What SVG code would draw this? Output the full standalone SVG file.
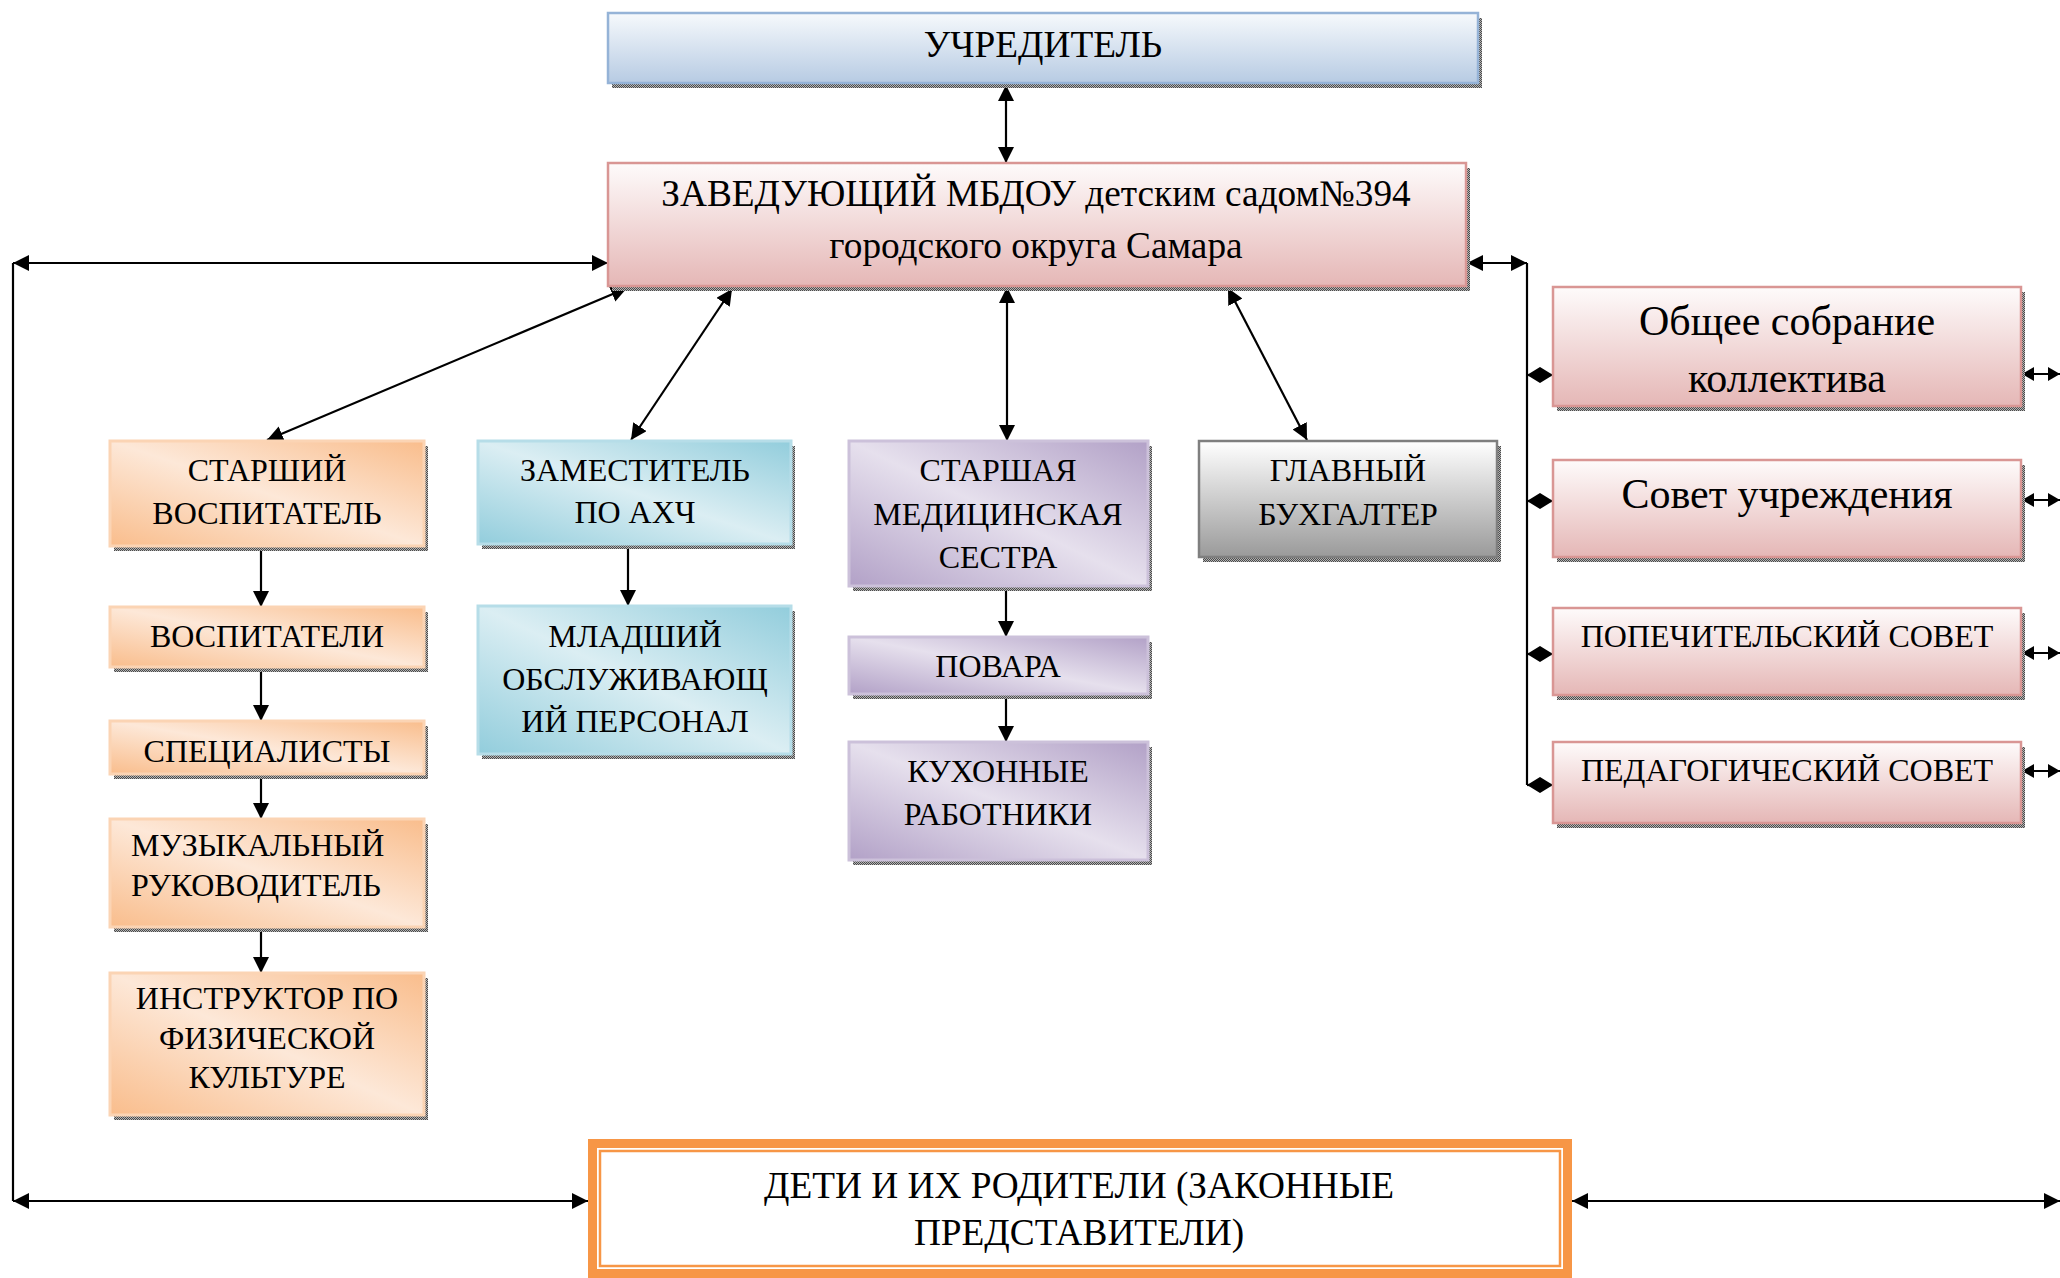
<svg xmlns="http://www.w3.org/2000/svg" width="2060" height="1278" viewBox="0 0 2060 1278">
<style>
text{font-family:"Liberation Serif","Times New Roman",serif;fill:#000;text-anchor:middle}
.m{font-size:37.3px}
.s{font-size:32px}
.b{font-size:42px}
.ln{stroke:#000;stroke-width:2.2;fill:none}
.shd{fill:url(#dots)}
</style>
<defs>
<pattern id="dots" width="2" height="2" patternUnits="userSpaceOnUse"><rect width="2" height="2" fill="#b5b5b5"/><rect width="1" height="1" fill="#4a4a4a"/><rect x="1" y="1" width="1" height="1" fill="#4a4a4a"/></pattern>
<linearGradient id="gBlue" x1="0" y1="0" x2="0" y2="1"><stop offset="0" stop-color="#f6f9fc"/><stop offset="1" stop-color="#b7cbe3"/></linearGradient>
<linearGradient id="gPink" x1="0" y1="0" x2="0" y2="1"><stop offset="0" stop-color="#fefbfb"/><stop offset="1" stop-color="#e5b7b6"/></linearGradient>
<linearGradient id="gGray" x1="0" y1="0" x2="0" y2="1"><stop offset="0" stop-color="#ffffff"/><stop offset="1" stop-color="#9a9a9a"/></linearGradient>
<linearGradient id="gOr" x1="1" y1="0" x2="0" y2="1"><stop offset="0" stop-color="#f9bd8c"/><stop offset="0.5" stop-color="#fde8d8"/><stop offset="1" stop-color="#f9bd8c"/></linearGradient>
<linearGradient id="gTeal" x1="1" y1="0" x2="0" y2="1"><stop offset="0" stop-color="#92cddc"/><stop offset="0.5" stop-color="#dbeef3"/><stop offset="1" stop-color="#92cddc"/></linearGradient>
<linearGradient id="gPur" x1="1" y1="0" x2="0" y2="1"><stop offset="0" stop-color="#b2a1c7"/><stop offset="0.5" stop-color="#e6e0ed"/><stop offset="1" stop-color="#b2a1c7"/></linearGradient>
<marker id="ah" viewBox="0 0 16 16" refX="16" refY="8" markerWidth="16" markerHeight="16" markerUnits="userSpaceOnUse" orient="auto-start-reverse"><path d="M0,0 L16,8 L0,16 z" fill="#000"/></marker>
<marker id="ahs" viewBox="0 0 12 14" refX="12" refY="7" markerWidth="12" markerHeight="14" markerUnits="userSpaceOnUse" orient="auto-start-reverse"><path d="M0,0 L12,7 L0,14 z" fill="#000"/></marker>
<marker id="ahd" viewBox="0 0 13 16" refX="13" refY="8" markerWidth="13" markerHeight="16" markerUnits="userSpaceOnUse" orient="auto-start-reverse"><path d="M0,0 L13,8 L0,16 z" fill="#000"/></marker>
</defs>
<rect width="2060" height="1278" fill="#fff"/>

<g id="connectors">
<line class="ln" x1="1006" y1="85" x2="1006" y2="163" marker-start="url(#ah)" marker-end="url(#ah)"/>
<line class="ln" x1="608" y1="263" x2="13" y2="263" stroke-width="3" marker-start="url(#ah)" marker-end="url(#ah)"/>
<line class="ln" x1="13" y1="263" x2="13" y2="1201" stroke-width="1.6"/>
<line class="ln" x1="13" y1="1201" x2="588" y2="1201" stroke-width="3" marker-start="url(#ah)" marker-end="url(#ah)"/>
<line class="ln" x1="1572" y1="1201" x2="2060" y2="1201" stroke-width="3" marker-start="url(#ah)" marker-end="url(#ah)"/>
<line class="ln" x1="1467" y1="263" x2="1527" y2="263" stroke-width="3" marker-start="url(#ah)" marker-end="url(#ah)"/>
<line class="ln" x1="1527" y1="263" x2="1527" y2="785" stroke-width="2"/>
<line class="ln" x1="1527" y1="375" x2="1553" y2="375" marker-start="url(#ahd)" marker-end="url(#ahd)"/>
<line class="ln" x1="1527" y1="501" x2="1553" y2="501" marker-start="url(#ahd)" marker-end="url(#ahd)"/>
<line class="ln" x1="1527" y1="654" x2="1553" y2="654" marker-start="url(#ahd)" marker-end="url(#ahd)"/>
<line class="ln" x1="1527" y1="785" x2="1553" y2="785" marker-start="url(#ahd)" marker-end="url(#ahd)"/>
<line class="ln" x1="2022" y1="374" x2="2060" y2="374" marker-start="url(#ahs)" marker-end="url(#ahs)"/>
<line class="ln" x1="2022" y1="500" x2="2060" y2="500" marker-start="url(#ahs)" marker-end="url(#ahs)"/>
<line class="ln" x1="2022" y1="653" x2="2060" y2="653" marker-start="url(#ahs)" marker-end="url(#ahs)"/>
<line class="ln" x1="2022" y1="771" x2="2060" y2="771" marker-start="url(#ahs)" marker-end="url(#ahs)"/>
<line class="ln" x1="627" y1="288" x2="267" y2="440" marker-start="url(#ah)" marker-end="url(#ah)"/>
<line class="ln" x1="732" y1="289" x2="631" y2="440" marker-start="url(#ah)" marker-end="url(#ah)"/>
<line class="ln" x1="1007" y1="287" x2="1007" y2="441" marker-start="url(#ah)" marker-end="url(#ah)"/>
<line class="ln" x1="1228" y1="288" x2="1307" y2="440" marker-start="url(#ah)" marker-end="url(#ah)"/>
<line class="ln" x1="261" y1="547" x2="261" y2="607" marker-end="url(#ah)"/>
<line class="ln" x1="261" y1="668" x2="261" y2="721" marker-end="url(#ah)"/>
<line class="ln" x1="261" y1="775" x2="261" y2="819" marker-end="url(#ah)"/>
<line class="ln" x1="261" y1="928" x2="261" y2="973" marker-end="url(#ah)"/>
<line class="ln" x1="628" y1="545" x2="628" y2="606" marker-end="url(#ah)"/>
<line class="ln" x1="1006" y1="587" x2="1006" y2="637" marker-end="url(#ah)"/>
<line class="ln" x1="1006" y1="695" x2="1006" y2="742" marker-end="url(#ah)"/>
</g>

<g id="uchreditel">
<rect class="shd" x="612" y="18" width="870" height="70"/>
<rect x="608" y="13" width="870" height="70" fill="url(#gBlue)" stroke="#95b3d7" stroke-width="2.5"/>
<text class="m" x="1043" y="57">УЧРЕДИТЕЛЬ</text>
</g>

<g id="zaveduyushchiy">
<rect class="shd" x="612" y="168" width="858" height="123"/>
<rect x="608" y="163" width="858" height="123" fill="url(#gPink)" stroke="#d99694" stroke-width="2.5"/>
<text class="m" x="1036" y="206">ЗАВЕДУЮЩИЙ МБДОУ детским садом№394</text>
<text class="m" x="1036" y="258">городского округа Самара</text>
</g>

<g id="starshiy-vospitatel">
<rect class="shd" x="114" y="446" width="314" height="105"/>
<rect x="110" y="441" width="314" height="105" fill="url(#gOr)" stroke="#fbd4b4" stroke-width="3"/>
<text class="s" x="267" y="481">СТАРШИЙ</text>
<text class="s" x="267" y="524">ВОСПИТАТЕЛЬ</text>
</g>

<g id="zamestitel">
<rect class="shd" x="482" y="446" width="313" height="103"/>
<rect x="478" y="441" width="313" height="103" fill="url(#gTeal)" stroke="#b6dde8" stroke-width="3"/>
<text class="s" x="635" y="481">ЗАМЕСТИТЕЛЬ</text>
<text class="s" x="635" y="523">ПО АХЧ</text>
</g>

<g id="med-sestra">
<rect class="shd" x="853" y="446" width="299" height="145"/>
<rect x="849" y="441" width="299" height="145" fill="url(#gPur)" stroke="#ccc1da" stroke-width="3"/>
<text class="s" x="998" y="481">СТАРШАЯ</text>
<text class="s" x="998" y="525">МЕДИЦИНСКАЯ</text>
<text class="s" x="998" y="568">СЕСТРА</text>
</g>

<g id="buhgalter">
<rect class="shd" x="1203" y="446" width="298" height="116"/>
<rect x="1199" y="441" width="298" height="116" fill="url(#gGray)" stroke="#7f7f7f" stroke-width="2.5"/>
<text class="s" x="1348" y="481">ГЛАВНЫЙ</text>
<text class="s" x="1348" y="525">БУХГАЛТЕР</text>
</g>

<g id="vospitateli">
<rect class="shd" x="114" y="612" width="314" height="60"/>
<rect x="110" y="607" width="314" height="60" fill="url(#gOr)" stroke="#fbd4b4" stroke-width="3"/>
<text class="s" x="267" y="647">ВОСПИТАТЕЛИ</text>
</g>

<g id="specialisty">
<rect class="shd" x="114" y="726" width="314" height="53"/>
<rect x="110" y="721" width="314" height="53" fill="url(#gOr)" stroke="#fbd4b4" stroke-width="3"/>
<text class="s" x="267" y="762">СПЕЦИАЛИСТЫ</text>
</g>

<g id="muz-rukovoditel">
<rect class="shd" x="114" y="824" width="314" height="108"/>
<rect x="110" y="819" width="314" height="108" fill="url(#gOr)" stroke="#fbd4b4" stroke-width="3"/>
<text class="s" x="131" y="856" style="text-anchor:start">МУЗЫКАЛЬНЫЙ</text>
<text class="s" x="131" y="896" style="text-anchor:start">РУКОВОДИТЕЛЬ</text>
</g>

<g id="instruktor">
<rect class="shd" x="114" y="978" width="314" height="142"/>
<rect x="110" y="973" width="314" height="142" fill="url(#gOr)" stroke="#fbd4b4" stroke-width="3"/>
<text class="s" x="267" y="1009">ИНСТРУКТОР ПО</text>
<text class="s" x="267" y="1049">ФИЗИЧЕСКОЙ</text>
<text class="s" x="267" y="1088">КУЛЬТУРЕ</text>
</g>

<g id="mladshiy-personal">
<rect class="shd" x="482" y="611" width="313" height="148"/>
<rect x="478" y="606" width="313" height="148" fill="url(#gTeal)" stroke="#b6dde8" stroke-width="3"/>
<text class="s" x="635" y="647">МЛАДШИЙ</text>
<text class="s" x="635" y="690">ОБСЛУЖИВАЮЩ</text>
<text class="s" x="635" y="732">ИЙ ПЕРСОНАЛ</text>
</g>

<g id="povara">
<rect class="shd" x="853" y="642" width="299" height="57"/>
<rect x="849" y="637" width="299" height="57" fill="url(#gPur)" stroke="#ccc1da" stroke-width="3"/>
<text class="s" x="998" y="677">ПОВАРА</text>
</g>

<g id="kuhonnye">
<rect class="shd" x="853" y="747" width="299" height="118"/>
<rect x="849" y="742" width="299" height="118" fill="url(#gPur)" stroke="#ccc1da" stroke-width="3"/>
<text class="s" x="998" y="782">КУХОННЫЕ</text>
<text class="s" x="998" y="825">РАБОТНИКИ</text>
</g>

<g id="obshchee-sobranie">
<rect class="shd" x="1557" y="292" width="468" height="119"/>
<rect x="1553" y="287" width="468" height="119" fill="url(#gPink)" stroke="#d99694" stroke-width="2.5"/>
<text class="b" x="1787" y="335">Общее собрание</text>
<text class="b" x="1787" y="392">коллектива</text>
</g>

<g id="sovet-uchrezhdeniya">
<rect class="shd" x="1557" y="465" width="468" height="97"/>
<rect x="1553" y="460" width="468" height="97" fill="url(#gPink)" stroke="#d99694" stroke-width="2.5"/>
<text class="b" x="1787" y="508">Совет учреждения</text>
</g>

<g id="popechitelskiy-sovet">
<rect class="shd" x="1557" y="613" width="468" height="87"/>
<rect x="1553" y="608" width="468" height="87" fill="url(#gPink)" stroke="#d99694" stroke-width="2.5"/>
<text class="s" x="1787" y="647">ПОПЕЧИТЕЛЬСКИЙ СОВЕТ</text>
</g>

<g id="pedagogicheskiy-sovet">
<rect class="shd" x="1557" y="747" width="468" height="81"/>
<rect x="1553" y="742" width="468" height="81" fill="url(#gPink)" stroke="#d99694" stroke-width="2.5"/>
<text class="s" x="1787" y="781">ПЕДАГОГИЧЕСКИЙ СОВЕТ</text>
</g>

<g id="deti-roditeli">
<rect x="592.5" y="1143.5" width="975" height="130" fill="#fff" stroke="#f79646" stroke-width="9"/>
<rect x="600" y="1151" width="960" height="115" fill="none" stroke="#f79646" stroke-width="2.5"/>
<text class="m" x="1079" y="1198">ДЕТИ И ИХ РОДИТЕЛИ (ЗАКОННЫЕ</text>
<text class="m" x="1079" y="1245">ПРЕДСТАВИТЕЛИ)</text>
</g>
</svg>
